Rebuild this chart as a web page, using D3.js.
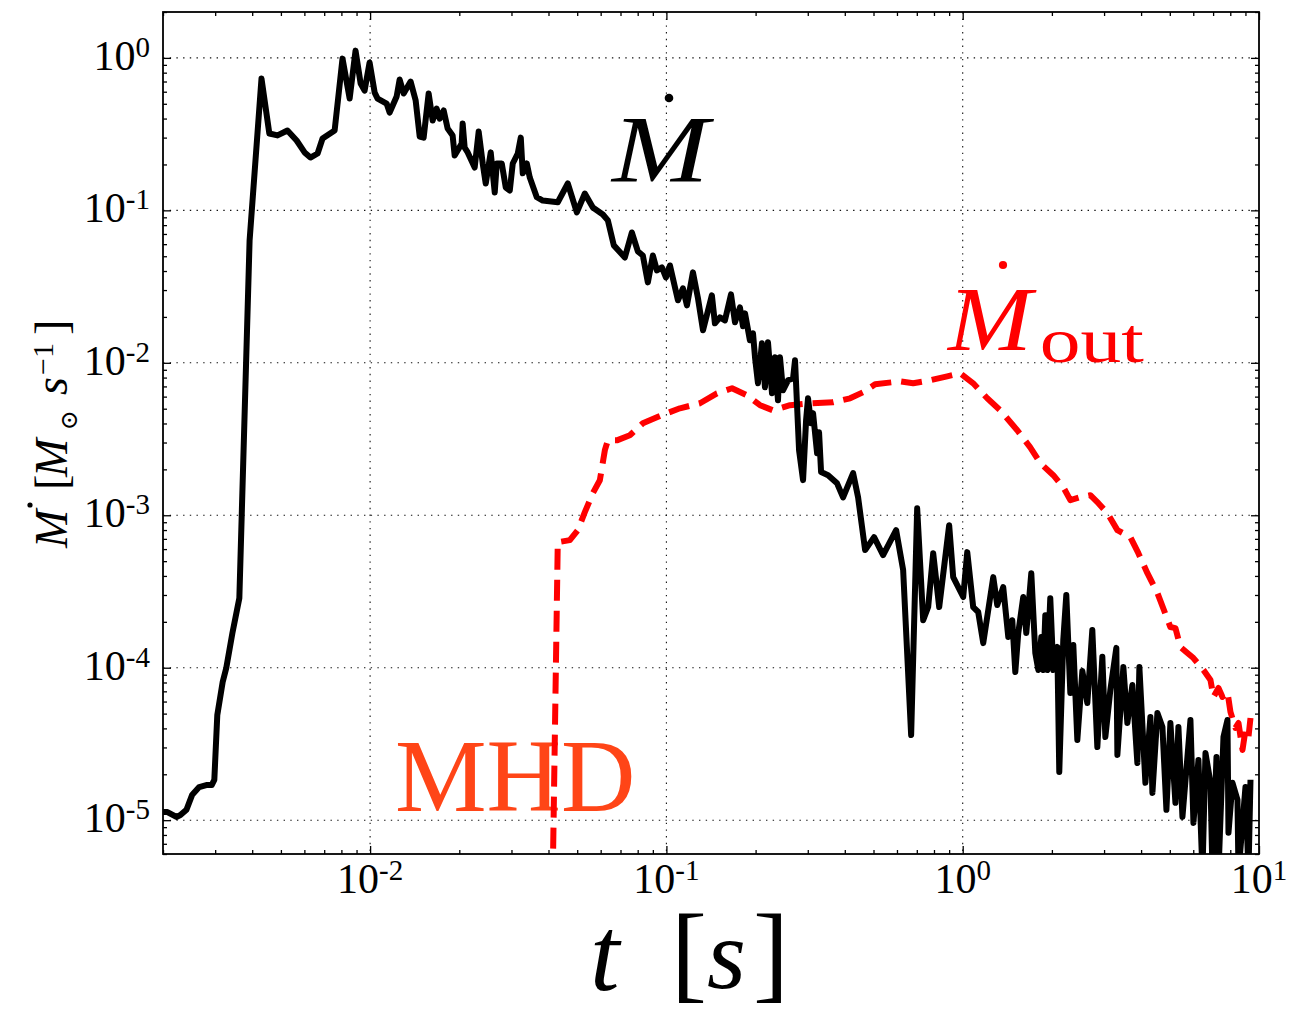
<!DOCTYPE html>
<html>
<head>
<meta charset="utf-8">
<script src="https://cdn.jsdelivr.net/npm/d3@7"></script>
<style>
  html, body { margin: 0; background: #fff; }
  svg text { font-family: 'Liberation Serif', 'DejaVu Serif', serif; }
</style>
</head>
<body>
<svg id="chart" width="1290" height="1015"></svg>
<script>
// Accretion rate onto the compact object (solid black), time in seconds
const inflowT = [
  0.00199,0.00207,0.00222,0.00229,0.00240,0.00251,0.00265,0.00280,0.00292,0.00298,
  0.00305,0.00318,0.00327,0.00343,0.00362,0.00392,0.00430,0.00457,0.00487,0.00526,
  0.00565,0.00601,0.00629,0.00665,0.00691,0.00759,0.00807,0.00853,0.00893,0.00929,
  0.00958,0.00996,0.01036,0.01060,0.01137,0.01164,0.01229,0.01258,0.01298,0.01370,
  0.01425,0.01470,0.01516,0.01576,0.01626,0.01677,0.01717,0.01771,0.01827,0.01899,
  0.01929,0.02037,0.02053,0.02085,0.02135,0.02254,0.02325,0.02399,0.02456,0.02553,
  0.02634,0.02676,0.02782,0.02870,0.02961,0.03030,0.03150,0.03225,0.03275,0.03379,
  0.03459,0.03652,0.03826,0.04299,0.04647,0.04985,0.05305,0.05646,0.06103,0.06345,
  0.06646,0.07240,0.07645,0.08010,0.08327,0.08658,0.09002,0.09287,0.09656,0.09961,
  0.1028,0.1094,0.1137,0.1173,0.1229,0.1278,0.1329,0.1424,0.1458,0.1516,
  0.1576,0.1652,0.1704,0.1771,0.1813,0.1842,0.1914,0.1960,0.1991,0.2037,
  0.2101,0.2151,0.2202,0.2272,0.2325,0.2380,0.2417,0.2474,0.2573,0.2676,
  0.2717,0.2804,0.2892,0.2961,0.3006,0.3078,0.3126,0.3225,0.3275,0.3327,
  0.3513,0.3767,0.3947,0.4267,0.4436,0.4685,0.5023,0.5387,0.5960,0.6295,
  0.6699,0.7020,0.7355,0.7646,0.7950,0.8330,0.9002,0.9287,1.004,1.036,
  1.085,1.128,1.173,1.268,1.308,1.370,1.425,1.470,1.505,1.540,
  1.601,1.639,1.704,1.758,1.800,1.842,1.871,1.900,1.930,1.975,
  2.022,2.086,2.118,2.185,2.237,2.308,2.362,2.437,2.534,2.634,
  2.738,2.847,2.960,3.030,3.150,3.300,3.327,3.485,3.595,3.738,
  3.886,3.947,4.136,4.300,4.368,4.541,4.721,4.870,5.023,5.223,
  5.346,5.516,5.734,5.870,6.008,6.246,6.444,6.597,6.858,6.966,
  7.186,7.298,7.587,7.827,7.888,8.137,8.460,8.526,9.002,9.215,9.360
];
const inflowRate = [
  1.13e-5,1.13e-5,1.05e-5,1.08e-5,1.17e-5,1.47e-5,1.65e-5,1.70e-5,1.70e-5,1.84e-5,
  4.90e-5,8.06e-5,9.95e-5,1.69e-4,2.86e-4,6.35e-2,0.732,0.319,0.310,0.334,
  0.287,0.240,0.222,0.236,0.296,0.334,0.989,0.541,1.116,0.679,
  0.610,0.932,0.592,0.541,0.502,0.438,0.558,0.721,0.584,0.699,
  0.525,0.305,0.300,0.584,0.388,0.465,0.400,0.452,0.344,0.310,
  0.229,0.274,0.371,0.258,0.240,0.191,0.329,0.203,0.150,0.240,
  0.131,0.203,0.203,0.141,0.135,0.203,0.236,0.300,0.175,0.203,
  0.164,0.122,0.116,0.113,0.150,0.0969,0.129,0.1045,0.0940,0.0859,
  0.0589,0.0491,0.0716,0.0538,0.0506,0.0337,0.0506,0.0404,0.0422,0.0363,
  0.0435,0.0257,0.0308,0.0238,0.0392,0.0265,0.01633,0.0277,0.01815,0.01987,
  0.01899,0.0281,0.01843,0.0231,0.01735,0.0211,0.01404,0.01561,0.01086,0.00734,
  0.01342,0.00691,0.01362,0.00631,0.01086,0.00568,0.01086,0.00660,0.00768,0.00791,
  0.01038,0.00267,0.00170,0.00420,0.00585,0.00401,0.00467,0.00255,0.00350,0.00192,
  0.00183,0.00162,0.00131,0.00189,0.00131,5.91e-4,7.19e-4,5.48e-4,7.99e-4,4.37e-4,
  3.62e-5,1.11e-3,2.05e-4,2.50e-4,5.64e-4,2.50e-4,8.61e-4,3.93e-4,2.91e-4,5.73e-4,
  2.50e-4,2.32e-4,1.45e-4,3.93e-4,2.58e-4,3.38e-4,1.59e-4,2.05e-4,9.37e-5,1.69e-4,
  2.91e-4,1.69e-4,4.17e-4,1.25e-4,9.66e-5,1.59e-4,9.66e-5,2.21e-4,9.66e-5,2.86e-4,
  9.66e-5,1.37e-4,2.07e-5,1.52e-4,3.00e-4,6.83e-5,1.41e-4,3.36e-5,9.51e-5,5.87e-5,
  1.77e-4,3.02e-5,1.18e-4,3.51e-5,7.14e-5,1.35e-4,2.68e-5,1.01e-4,4.34e-5,7.70e-5,
  2.37e-5,1.01e-4,1.76e-5,4.75e-5,1.51e-5,5.05e-5,4.09e-5,1.17e-5,4.34e-5,1.30e-5,
  4.09e-5,1.05e-5,2.60e-5,4.54e-5,9.60e-6,2.48e-5,4.5e-6,2.76e-5,1.76e-5,4.5e-6,
  2.60e-5,4.5e-6,3.51e-5,4.54e-5,8.26e-6,1.76e-5,1.36e-5,4.5e-6,1.65e-5,4.5e-6,1.84e-5
];

// Outflow rate (red dashed)
const outflowT = [
  0.04088,0.04299,0.04721,0.05023,0.05305,0.05646,0.05962,0.06199,0.06345,0.06806,
  0.07527,0.08327,0.09287,0.1004,0.1111,0.1298,0.1481,0.1665,0.1871,0.2070,
  0.2290,0.2614,0.3053,0.3652,0.4169,0.4612,0.5062,0.6151,0.6805,0.7766,
  0.8864,0.9808,1.085,1.210,1.339,1.528,1.690,1.828,2.022,2.185,
  2.308,2.495,2.696,2.870,3.078,3.327,3.680,3.916,4.201,4.541,
  5.023,5.223,5.430,5.734,6.008,6.494,6.858,7.021,7.298,7.529,
  7.827,8.010,8.327,8.526,8.797,9.002,9.215,9.360
];
const outflowRate = [
  1e-6,6.66e-4,6.87e-4,7.99e-4,1.048e-3,1.396e-3,1.698e-3,2.67e-3,3.10e-3,3.10e-3,
  3.35e-3,4.01e-3,4.39e-3,4.67e-3,5.03e-3,5.43e-3,6.31e-3,6.81e-3,6.12e-3,5.27e-3,
  4.88e-3,5.27e-3,5.43e-3,5.51e-3,5.85e-3,6.41e-3,7.23e-3,7.56e-3,7.34e-3,7.68e-3,
  8.15e-3,8.53e-3,7.34e-3,5.85e-3,4.88e-3,3.61e-3,2.79e-3,2.195e-3,1.832e-3,1.528e-3,
  1.256e-3,1.314e-3,1.354e-3,1.200e-3,1.032e-3,7.99e-4,7.19e-4,5.64e-4,4.17e-4,3.09e-4,
  1.848e-4,1.820e-4,1.366e-4,1.248e-4,1.157e-4,9.66e-5,8.31e-5,6.43e-5,7.36e-5,6.43e-5,
  6.93e-5,5.13e-5,4.03e-5,4.34e-5,2.89e-5,3.90e-5,3.51e-5,4.68e-5
];

// Decade exponents for the labelled ticks
const xTickExps = [-2, -1, 0, 1];
const yTickExps = [0, -1, -2, -3, -4, -5];

const m = { left: 163, right: 1259, top: 12, bottom: 854 };
const x = d3.scaleLog().domain([2e-3, 10]).range([m.left, m.right]);
const y = d3.scaleLog().domain([6e-6, 2]).range([m.bottom, m.top]);

const svg = d3.select('#chart');
svg.append('defs').append('clipPath').attr('id', 'plot-clip')
  .append('rect')
  .attr('x', m.left).attr('y', m.top)
  .attr('width', m.right - m.left).attr('height', m.bottom - m.top);

// minor tick values: 2..9 times each decade that falls inside the domain
function minorTicks(scale) {
  const [lo, hi] = scale.domain();
  const out = [];
  for (let d = Math.floor(Math.log10(lo)); d <= Math.ceil(Math.log10(hi)); d++) {
    for (let k = 2; k <= 9; k++) {
      const v = k * Math.pow(10, d);
      if (v >= lo && v <= hi) out.push(v);
    }
  }
  return out;
}
const xMajor = xTickExps.map(e => Math.pow(10, e));
const yMajor = yTickExps.map(e => Math.pow(10, e));
const xMinor = minorTicks(x);
const yMinor = minorTicks(y);

// dotted grid at the labelled decades
const grid = svg.append('g').attr('class', 'grid')
  .attr('stroke', '#111').attr('stroke-width', 1.1).attr('stroke-dasharray', '1.4,5.3');
grid.selectAll('line.gx').data(xMajor.filter(v => x(v) < m.right - 2)).join('line')
  .attr('class', 'gx')
  .attr('x1', d => x(d)).attr('x2', d => x(d))
  .attr('y1', m.top).attr('y2', m.bottom);
grid.selectAll('line.gy').data(yMajor).join('line')
  .attr('class', 'gy')
  .attr('x1', m.left).attr('x2', m.right)
  .attr('y1', d => y(d)).attr('y2', d => y(d));

// inward-pointing ticks on all four sides
function drawTicks(axisGen, transform, values, size) {
  svg.append('g').attr('transform', transform)
    .call(axisGen.tickValues(values).tickSizeInner(size).tickSizeOuter(0).tickFormat(''))
    .call(g => g.select('.domain').remove())
    .call(g => g.selectAll('.tick line').attr('stroke', '#000').attr('stroke-width', 1.3));
}
drawTicks(d3.axisBottom(x), `translate(0,${m.bottom})`, xMajor, -8);
drawTicks(d3.axisBottom(x), `translate(0,${m.bottom})`, xMinor, -4);
drawTicks(d3.axisTop(x), `translate(0,${m.top})`, xMajor, -8);
drawTicks(d3.axisTop(x), `translate(0,${m.top})`, xMinor, -4);
drawTicks(d3.axisLeft(y), `translate(${m.left},0)`, yMajor, -8);
drawTicks(d3.axisLeft(y), `translate(${m.left},0)`, yMinor, -4);
drawTicks(d3.axisRight(y), `translate(${m.right},0)`, yMajor, -8);
drawTicks(d3.axisRight(y), `translate(${m.right},0)`, yMinor, -4);

// "MHD" tag behind the curves
svg.append('text')
  .attr('x', 395).attr('y', 811)
  .attr('font-size', 103).attr('fill', '#ff4517')
  .text('MHD');

const plot = svg.append('g').attr('clip-path', 'url(#plot-clip)');
const line = d3.line().x(d => x(d[0])).y(d => y(d[1]));

plot.append('path')
  .datum(d3.zip(outflowT, outflowRate))
  .attr('d', line)
  .attr('fill', 'none').attr('stroke', '#ff0000').attr('stroke-width', 6)
  .attr('stroke-dasharray', '21,10').attr('stroke-linejoin', 'round');

plot.append('path')
  .datum(d3.zip(inflowT, inflowRate))
  .attr('d', line)
  .attr('fill', 'none').attr('stroke', '#000').attr('stroke-width', 6)
  .attr('stroke-linejoin', 'round');

// frame
svg.append('rect')
  .attr('x', m.left).attr('y', m.top)
  .attr('width', m.right - m.left).attr('height', m.bottom - m.top)
  .attr('fill', 'none').attr('stroke', '#000').attr('stroke-width', 1.8);

// tick labels: 10 with a raised exponent
function powerLabel(sel, e) {
  sel.append('tspan').text('10');
  sel.append('tspan').attr('dy', -13).attr('font-size', 29).text(String(e));
}
xTickExps.forEach(e => {
  svg.append('text')
    .attr('x', x(Math.pow(10, e))).attr('y', 893)
    .attr('text-anchor', 'middle').attr('font-size', 42)
    .call(powerLabel, e);
});
yTickExps.forEach(e => {
  svg.append('text')
    .attr('x', 150).attr('y', y(Math.pow(10, e)) + 12)
    .attr('text-anchor', 'end').attr('font-size', 42)
    .call(powerLabel, e);
});

// x-axis title: t [s]
const xt = svg.append('text').attr('fill', '#000').attr('font-size', 106);
xt.append('tspan').attr('x', 590).attr('y', 990).attr('font-style', 'italic').text('t');
xt.append('tspan').attr('x', 671).attr('y', 989).attr('font-size', 108).text('[');
xt.append('tspan').attr('x', 707).attr('y', 988).attr('font-size', 100).attr('font-style', 'italic').text('s');
xt.append('tspan').attr('x', 753).attr('y', 989).attr('font-size', 108).text(']');

// y-axis title, reading bottom to top: M-dot [M⊙ s−1]
const ytG = svg.append('g').attr('transform', 'translate(67,548) rotate(-90)');
const yt = ytG.append('text').attr('font-size', 46).attr('fill', '#000');
yt.append('tspan').attr('x', 0).attr('y', 0).attr('font-style', 'italic').text('M');
yt.append('tspan').attr('x', 58).attr('y', 0).text('[');
yt.append('tspan').attr('x', 71).attr('y', 0).attr('font-style', 'italic').text('M');
yt.append('tspan').attr('x', 118).attr('y', 10).attr('font-size', 24).text('⊙');
yt.append('tspan').attr('x', 153).attr('y', 0).attr('font-style', 'italic').text('s');
yt.append('tspan').attr('x', 173).attr('y', -14).attr('font-size', 30).text('−1');
yt.append('tspan').attr('x', 213).attr('y', 0).text(']');
// time-derivative overdot
ytG.append('circle').attr('cx', 43).attr('cy', -37).attr('r', 2.6).attr('fill', '#000');

// curve annotations: M with an overdot, widened slightly
svg.append('text')
  .attr('transform', 'translate(612,182) scale(1.21,1)')
  .attr('font-size', 96).attr('font-style', 'italic').attr('fill', '#000')
  .text('M');
svg.append('circle').attr('cx', 669).attr('cy', 98).attr('r', 4.3).attr('fill', '#000');

const outLabel = svg.append('text')
  .attr('transform', 'translate(948,350) scale(1.12,1)')
  .attr('font-size', 90).attr('fill', '#ff0000');
outLabel.append('tspan').attr('x', 0).attr('y', 0).attr('font-style', 'italic').text('M');
outLabel.append('tspan').attr('x', 82).attr('y', 12).attr('font-size', 64)
  .attr('textLength', 93).attr('lengthAdjust', 'spacingAndGlyphs').text('out');
svg.append('circle').attr('cx', 1003).attr('cy', 265).attr('r', 4.1).attr('fill', '#ff0000');
</script>
</body>
</html>
